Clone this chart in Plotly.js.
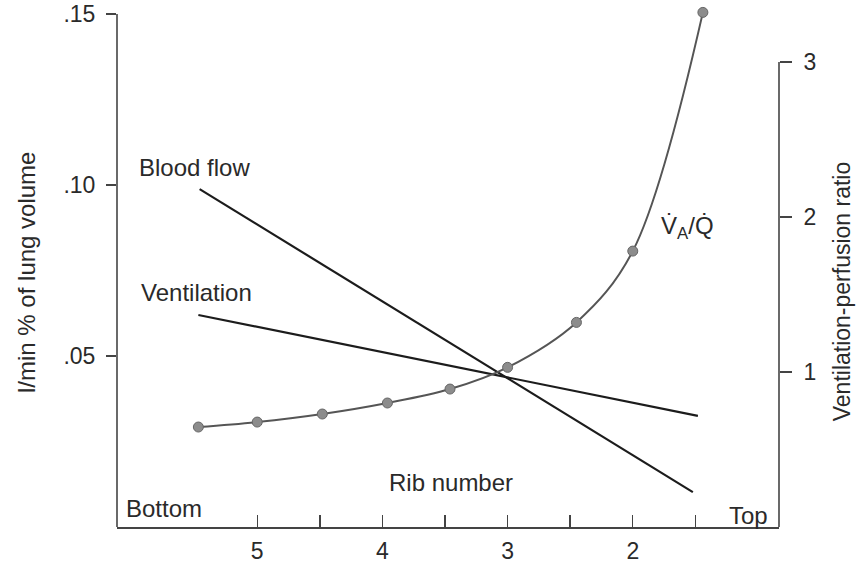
<!DOCTYPE html>
<html>
<head>
<meta charset="utf-8">
<script src="https://cdn.plot.ly/plotly-3.0.1.min.js"></script>
<style>html,body{margin:0;padding:0;background:#fff;}#chart{width:859px;height:565px;}</style>
</head>
<body>
<div id="chart"></div>
<script>
// Rib number (x) and values
var ribLabels = [5, 4, 3, 2];
var ribLabelText = ['5', '4', '3', '2'];
var ribHalfTicks = [4.5, 3.5, 2.5, 1.5];

var bloodFlowRib = [5.46, 1.52];
var bloodFlow = [0.0988, 0.0102];

var ventilationRib = [5.47, 1.48];
var ventilation = [0.062, 0.0325];

var vqRib = [5.47, 5.0, 4.48, 3.96, 3.46, 3.0, 2.45, 2.0, 1.44];
var vqRatio = [0.645, 0.677, 0.729, 0.80, 0.89, 1.03, 1.32, 1.78, 3.32];

var leftTicks = [0.05, 0.10, 0.15];
var leftTickText = ['.05', '.10', '.15'];
var rightTicks = [1, 2, 3];
var rightTickText = ['1', '2', '3'];

var FONT = 'Liberation Sans, Arial, Helvetica, sans-serif';
var FS = 24;
var TXT = '#2a2a2a';
var AX = '#444';

var traces = [
  {x: bloodFlowRib, y: bloodFlow, type: 'scatter', mode: 'lines', yaxis: 'y',
   line: {color: '#1c1c1c', width: 2.2}, hoverinfo: 'skip'},
  {x: ventilationRib, y: ventilation, type: 'scatter', mode: 'lines', yaxis: 'y',
   line: {color: '#1c1c1c', width: 2.2}, hoverinfo: 'skip'},
  {x: vqRib, y: vqRatio, type: 'scatter', mode: 'lines+markers', yaxis: 'y2',
   line: {color: '#555', width: 2, shape: 'spline', smoothing: 1},
   marker: {size: 10, color: '#8c8c8c', line: {color: '#666', width: 1}}, hoverinfo: 'skip'}
];

function ann(text, x, y) {
  return {text: text, x: x, y: y, xref: 'x', yref: 'y', showarrow: false,
          xanchor: 'center', yanchor: 'middle', font: {family: FONT, size: FS, color: TXT}};
}

var layout = {
  width: 859, height: 565,
  margin: {l: 117, r: 80, t: 5, b: 38},
  paper_bgcolor: '#fff', plot_bgcolor: 'rgba(0,0,0,0)',
  showlegend: false,
  font: {family: FONT, size: FS, color: TXT},
  xaxis: {
    range: [6.12, 0.832], showgrid: false, zeroline: false,
    showline: true, linecolor: AX, linewidth: 1.6,
    tickmode: 'array', tickvals: ribLabels, ticktext: ribLabelText,
    ticks: 'inside', ticklen: 12, tickwidth: 1.4, tickcolor: AX,
    minor: {tickmode: 'array', tickvals: ribHalfTicks, ticks: 'inside', ticklen: 12,
            tickwidth: 1.4, tickcolor: AX, showgrid: false},
    tickfont: {family: FONT, size: FS - 1, color: TXT}, ticklabelstandoff: 3
  },
  yaxis: {
    range: [0, 522 / 3420], showgrid: false, zeroline: false, showline: false,
    tickmode: 'array', tickvals: leftTicks, ticktext: leftTickText,
    ticks: 'outside', ticklen: 10, tickwidth: 1.4, tickcolor: AX,
    tickfont: {family: FONT, size: FS - 1, color: TXT}, ticklabelstandoff: 6
  },
  yaxis2: {
    range: [0, 522 / 155], overlaying: 'y', side: 'right', anchor: 'x',
    showgrid: false, zeroline: false, showline: false,
    tickmode: 'array', tickvals: rightTicks, ticktext: rightTickText,
    ticks: 'outside', ticklen: 12, tickwidth: 1.4, tickcolor: AX,
    tickfont: {family: FONT, size: FS - 1, color: TXT}, ticklabelstandoff: 7
  },
  shapes: [
    {type: 'line', xref: 'paper', yref: 'y', x0: 0, x1: 0, y0: 0, y1: leftTicks[2],
     line: {color: AX, width: 1.6}},
    {type: 'line', xref: 'paper', yref: 'y2', x0: 1, x1: 1, y0: 0, y1: rightTicks[2],
     line: {color: AX, width: 1.6}}
  ],
  annotations: [
    ann('Blood flow', 5.504, 0.105),
    ann('Ventilation', 5.488, 0.0687),
    ann('Rib number', 3.456, 0.0129),
    ann('Bottom', 5.744, 0.0053),
    ann('Top', 1.072, 0.0035),
    ann('V\u0307<sub>A</sub>/Q\u0307', 1.56, 0.0877),
    {text: 'l/min % of lung volume', x: -0.1375, y: 0.4885, xref: 'paper', yref: 'paper',
     showarrow: false, textangle: -90, xanchor: 'center', yanchor: 'middle',
     font: {family: FONT, size: FS, color: TXT}},
    {text: 'Ventilation-perfusion ratio', x: 1.0955, y: 0.452, xref: 'paper', yref: 'paper',
     showarrow: false, textangle: -90, xanchor: 'center', yanchor: 'middle',
     font: {family: FONT, size: FS - 1, color: TXT}}
  ]
};

Plotly.newPlot('chart', traces, layout, {staticPlot: true, displayModeBar: false});
</script>
</body>
</html>
